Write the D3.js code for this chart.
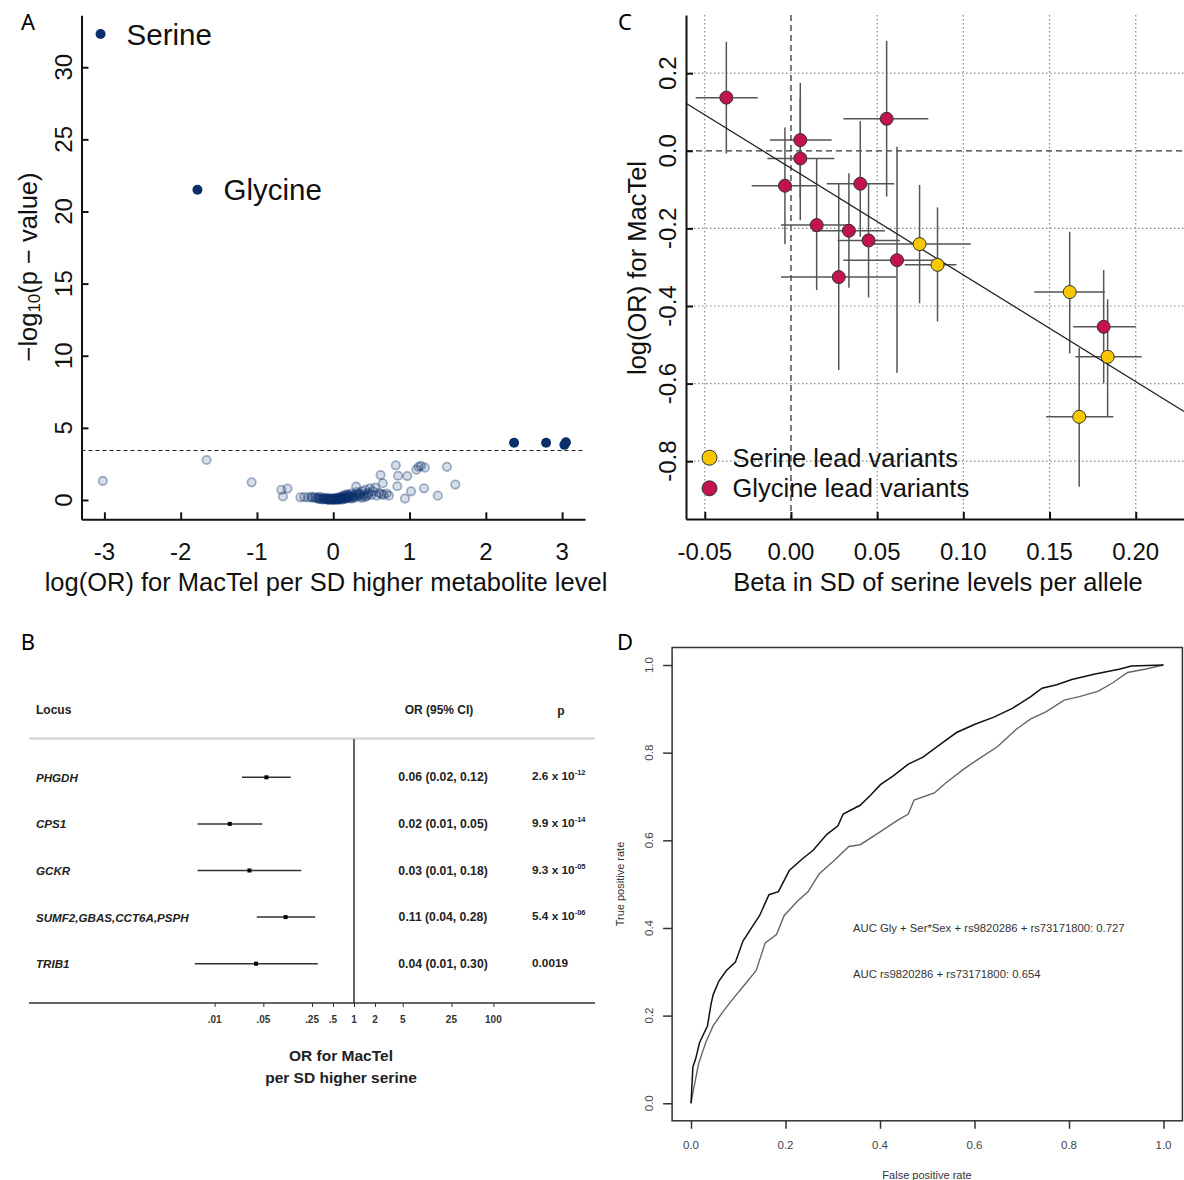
<!DOCTYPE html>
<html>
<head>
<meta charset="utf-8">
<script src="https://cdn.jsdelivr.net/npm/d3@7"></script>
<style>
  body { margin: 0; background: #fff; }
  svg text { font-family: "Liberation Sans", Arial, sans-serif; }
  .letter { font-family: "Noto Sans", sans-serif; font-size: 22px; }
</style>
</head>
<body>
<svg id="fig" width="1184" height="1180"></svg>
<script>
// ---------- panel A: metabolite association ----------
const aFaintX = [-3.02, -1.66, -1.07, -0.68, -0.6, -0.66, 0.30, 0.62, 0.65, 0.82, 0.85, 0.97, 0.84, 0.94, 1.02, 1.09, 1.12, 1.15, 1.20, 1.19, 1.37, 1.49, 1.60,
  -0.43, -0.38, -0.33, -0.29, -0.27, -0.24, -0.22, -0.2, -0.18, -0.17, -0.15, -0.13, -0.12, -0.1, -0.09, -0.08, -0.06, -0.05, -0.04, -0.03, -0.02, -0.01,
  0, 0.01, 0.02, 0.03, 0.04, 0.05, 0.06, 0.07, 0.08, 0.09, 0.1, 0.11, 0.12, 0.13, 0.14, 0.15, 0.16, 0.17, 0.18, 0.19, 0.2, 0.21, 0.22, 0.24, 0.25, 0.26,
  0.28, 0.3, 0.31, 0.33, 0.35, 0.37, 0.38, 0.4, 0.42, 0.44, 0.46, 0.48, 0.5, 0.52, 0.55, 0.57, 0.6, 0.63, 0.66, 0.7, 0.73,
  -0.19, -0.14, -0.11, -0.07, -0.03, 0.0, 0.02, 0.04, 0.06, 0.08, 0.1, 0.12, 0.14, 0.16, 0.18, 0.2, 0.23, 0.27, 0.32, 0.36, 0.41, 0.45];
const aFaintY = [1.32, 2.77, 1.22, 0.7, 0.79, 0.24, 0.92, 1.73, 1.16, 2.4, 1.68, 1.66, 0.95, 0.1, 0.6, 2.1, 2.3, 2.36, 2.24, 0.81, 0.3, 2.3, 1.07,
  0.18, 0.2, 0.17, 0.22, 0.15, 0.2, 0.12, 0.16, 0.1, 0.22, 0.08, 0.13, 0.05, 0.1, 0.04, 0.15, 0.03, 0.08, 0.01, 0.05, 0.12, 0.02,
  0.0, 0.06, 0.03, 0.1, 0.04, 0.14, 0.07, 0.02, 0.18, 0.1, 0.05, 0.22, 0.12, 0.3, 0.08, 0.17, 0.35, 0.12, 0.25, 0.4, 0.15, 0.3, 0.2, 0.45, 0.27, 0.12,
  0.35, 0.2, 0.55, 0.3, 0.45, 0.15, 0.6, 0.35, 0.7, 0.25, 0.5, 0.8, 0.35, 0.6, 0.85, 0.3, 0.5, 0.4, 0.35, 0.45, 0.3,
  0.06, 0.04, 0.09, 0.02, 0.08, 0.05, 0.12, 0.07, 0.01, 0.1, 0.16, 0.03, 0.2, 0.09, 0.14, 0.28, 0.1, 0.22, 0.4, 0.28, 0.2, 0.38];
const aSigX = [-3.05, -1.78, 2.37, 2.79, 3.03, 3.05];
const aSigY = [32.3, 21.5, 3.97, 3.97, 3.82, 4.0];
const aSigLabel = ["Serine", "Glycine", "", "", "", ""];
const aXTicks = [-3, -2, -1, 0, 1, 2, 3];
const aYTicks = [0, 5, 10, 15, 20, 25, 30];
const aThreshold = 3.43;

// ---------- panel B: forest plot ----------
const bLocus = ["PHGDH", "CPS1", "GCKR", "SUMF2,GBAS,CCT6A,PSPH", "TRIB1"];
const bOR = [0.0554, 0.0165, 0.0316, 0.1044, 0.0393];
const bLow = [0.0247, 0.0057, 0.0057, 0.0403, 0.0052];
const bHigh = [0.124, 0.0483, 0.175, 0.2775, 0.3025];
const bORText = ["0.06 (0.02, 0.12)", "0.02 (0.01, 0.05)", "0.03 (0.01, 0.18)", "0.11 (0.04, 0.28)", "0.04 (0.01, 0.30)"];
const bPMant = ["2.6 x 10", "9.9 x 10", "9.3 x 10", "5.4 x 10", "0.0019"];
const bPExp = ["-12", "-14", "-05", "-06", ""];
const bTicks = [0.01, 0.05, 0.25, 0.5, 1, 2, 5, 25, 100];
const bTickLabels = [".01", ".05", ".25", ".5", "1", "2", "5", "25", "100"];

// ---------- panel C: serine beta vs MacTel log(OR) ----------
const cType = ["Gly","Gly","Gly","Gly","Gly","Gly","Gly","Gly","Gly","Gly","Gly","Gly","Ser","Ser","Ser","Ser","Ser"];
const cBeta = [-0.0375, 0.0555, 0.0054, 0.0054, -0.0035, 0.0149, 0.0336, 0.0402, 0.045, 0.0277, 0.0615, 0.1814, 0.0746, 0.085, 0.1617, 0.1837, 0.1672];
const cBetaLo = [-0.0553, 0.0304, -0.0122, -0.0137, -0.0228, -0.0058, 0.0125, 0.0207, 0.0271, -0.0058, 0.0304, 0.1637, 0.0478, 0.066, 0.1411, 0.165, 0.148];
const cBetaHi = [-0.0193, 0.0797, 0.0236, 0.0252, 0.0149, 0.035, 0.0545, 0.0599, 0.0632, 0.0613, 0.0874, 0.2, 0.1043, 0.096, 0.1821, 0.2035, 0.187];
const cLogOR = [0.137, 0.0825, 0.0276, -0.0197, -0.090, -0.1915, -0.206, -0.085, -0.231, -0.3255, -0.282, -0.4536, -0.2405, -0.294, -0.364, -0.531, -0.6856];
const cLogORLo = [-0.007, -0.118, -0.123, -0.179, -0.241, -0.359, -0.353, -0.2216, -0.378, -0.565, -0.572, -0.5995, -0.393, -0.44, -0.522, -0.6856, -0.866];
const cLogORHi = [0.281, 0.2835, 0.175, 0.136, 0.060, -0.0197, -0.058, 0.0766, -0.086, -0.086, 0.0103, -0.3075, -0.088, -0.146, -0.2087, -0.383, -0.508];
const cFit = { intercept: -0.045, slope: -2.75 };
const cXTicks = [-0.05, 0.00, 0.05, 0.10, 0.15, 0.20];
const cYTicks = [0.2, 0.0, -0.2, -0.4, -0.6, -0.8];
const cLegend = ["Serine lead variants", "Glycine lead variants"];

// ---------- panel D: ROC curves ----------
const dFprFull = [0, 0.004, 0.010, 0.018, 0.028, 0.035, 0.042, 0.047, 0.059, 0.075, 0.094, 0.110, 0.126, 0.145, 0.165, 0.185, 0.208, 0.236, 0.259, 0.287, 0.311, 0.322, 0.358, 0.381, 0.401, 0.428, 0.460, 0.491, 0.531, 0.562, 0.601, 0.641, 0.680, 0.719, 0.743, 0.774, 0.806, 0.853, 0.908, 0.932, 1];
const dTprFull = [0, 0.083, 0.102, 0.138, 0.161, 0.177, 0.224, 0.248, 0.279, 0.303, 0.322, 0.370, 0.397, 0.428, 0.476, 0.483, 0.531, 0.558, 0.578, 0.613, 0.633, 0.660, 0.680, 0.704, 0.727, 0.747, 0.774, 0.790, 0.822, 0.846, 0.865, 0.881, 0.901, 0.928, 0.947, 0.955, 0.967, 0.979, 0.991, 0.998, 1];
const dFprSnp = [0, 0.006, 0.016, 0.031, 0.047, 0.067, 0.090, 0.114, 0.138, 0.157, 0.181, 0.197, 0.224, 0.248, 0.271, 0.303, 0.334, 0.358, 0.397, 0.436, 0.460, 0.472, 0.515, 0.539, 0.578, 0.609, 0.649, 0.688, 0.719, 0.751, 0.790, 0.822, 0.861, 0.892, 0.924, 0.963, 1];
const dTprSnp = [0, 0.035, 0.090, 0.138, 0.177, 0.208, 0.240, 0.271, 0.303, 0.366, 0.385, 0.428, 0.460, 0.483, 0.523, 0.554, 0.586, 0.590, 0.617, 0.645, 0.660, 0.692, 0.708, 0.731, 0.763, 0.786, 0.814, 0.853, 0.877, 0.893, 0.920, 0.928, 0.940, 0.959, 0.983, 0.991, 1];
const dTicks = [0, 0.2, 0.4, 0.6, 0.8, 1.0];
const dAuc = ["AUC Gly + Ser*Sex + rs9820286 + rs73171800: 0.727", "AUC rs9820286 + rs73171800: 0.654"];

const svg = d3.select("#fig");
const fmt1 = d3.format(".1f");

// panel letters
svg.selectAll(".letter").data([["A", 28, 21], ["B", 28, 641], ["C", 625, 21], ["D", 625, 641]])
  .join("text").attr("class", "letter")
  .attr("x", d => d[1]).attr("y", d => d[2])
  .attr("text-anchor", "middle").attr("dominant-baseline", "central")
  .text(d => d[0]);

// ================= A =================
const gA = svg.append("g");
const xA = d3.scaleLinear().domain([-3.3, 3.3]).range([81.5, 585]);
const yA = d3.scaleLinear().domain([-1.34, 33.6]).range([519.3, 15.3]);

gA.append("g").attr("transform", "translate(0,519.3)")
  .call(d3.axisBottom(xA).tickValues(aXTicks).tickSize(-7).tickSizeOuter(0).tickFormat(""))
  .call(g => g.selectAll("path,line").attr("stroke", "#111").attr("stroke-width", 2));
gA.append("g").attr("transform", "translate(81.5,0)")
  .call(d3.axisLeft(yA).tickValues(aYTicks).tickSize(-7).tickSizeOuter(0).tickFormat(""))
  .call(g => g.selectAll("path,line").attr("stroke", "#111").attr("stroke-width", 2));

gA.selectAll(".axl").data(aXTicks).join("text")
  .attr("x", d => xA(d)).attr("y", 551)
  .attr("text-anchor", "middle").attr("dominant-baseline", "central")
  .attr("font-size", 24).attr("fill", "#111")
  .text(d => d);
gA.selectAll(".ayl").data(aYTicks).join("text")
  .attr("transform", d => `translate(63,${yA(d)}) rotate(-90)`)
  .attr("text-anchor", "middle").attr("dominant-baseline", "central")
  .attr("font-size", 24).attr("fill", "#111")
  .text(d => d);

gA.append("text").attr("x", 326).attr("y", 582)
  .attr("text-anchor", "middle").attr("dominant-baseline", "central")
  .attr("font-size", 25.5).attr("fill", "#111")
  .text("log(OR) for MacTel per SD higher metabolite level");
const aYT = gA.append("text").attr("transform", "translate(28,267) rotate(-90)")
  .attr("text-anchor", "middle").attr("dominant-baseline", "central")
  .attr("font-size", 25.5).attr("fill", "#111");
aYT.append("tspan").text("\u2212log");
aYT.append("tspan").attr("font-size", 17).attr("dy", 6).text("10");
aYT.append("tspan").attr("dy", -6).text("(p \u2212 value)");

gA.append("line")
  .attr("x1", xA.range()[0]).attr("x2", xA.range()[1])
  .attr("y1", yA(aThreshold)).attr("y2", yA(aThreshold))
  .attr("stroke", "#222").attr("stroke-width", 1.2).attr("stroke-dasharray", "4,3");

gA.selectAll(".faint").data(aFaintX).join("circle")
  .attr("cx", d => xA(d)).attr("cy", (d, i) => yA(aFaintY[i])).attr("r", 4.2)
  .attr("fill", "rgba(11,47,107,0.16)").attr("stroke", "rgba(11,47,107,0.36)").attr("stroke-width", 1.8);
gA.selectAll(".sig").data(aSigX).join("circle")
  .attr("cx", d => xA(d)).attr("cy", (d, i) => yA(aSigY[i])).attr("r", 5)
  .attr("fill", "#0b2f6b");
gA.selectAll(".sigl").data(aSigX).join("text")
  .attr("x", d => xA(d) + 26).attr("y", (d, i) => yA(aSigY[i]))
  .attr("dominant-baseline", "central").attr("font-size", 29.5).attr("fill", "#111")
  .text((d, i) => aSigLabel[i]);

// ================= B =================
const gB = svg.append("g");
const xB = d3.scaleLog().domain([0.01, 1]).range([214.6, 354]);
const yB = d3.scalePoint().domain(bLocus).range([777.3, 963.7]);

gB.append("text").attr("x", 36).attr("y", 710).attr("dominant-baseline", "central")
  .attr("font-size", 12).attr("font-weight", "bold").attr("fill", "#222").text("Locus");
gB.append("text").attr("x", 439).attr("y", 710).attr("text-anchor", "middle").attr("dominant-baseline", "central")
  .attr("font-size", 12).attr("font-weight", "bold").attr("fill", "#222").text("OR (95% CI)");
gB.append("text").attr("x", 561).attr("y", 711).attr("text-anchor", "middle").attr("dominant-baseline", "central")
  .attr("font-size", 12).attr("font-weight", "bold").attr("fill", "#222").text("p");
gB.append("line").attr("x1", 29).attr("x2", 595).attr("y1", 738.5).attr("y2", 738.5)
  .attr("stroke", "#d8d8d8").attr("stroke-width", 2.5);

gB.append("g").attr("transform", "translate(0,1003)")
  .call(d3.axisBottom(xB).tickValues(bTicks).tickSize(4).tickSizeOuter(0).tickFormat(""))
  .call(g => g.select(".domain").remove())
  .call(g => g.selectAll("line").attr("stroke", "#333"));
gB.append("line").attr("x1", 29).attr("x2", 595).attr("y1", 1003).attr("y2", 1003)
  .attr("stroke", "#333").attr("stroke-width", 1.3);
gB.append("line").attr("x1", xB(1)).attr("x2", xB(1)).attr("y1", 739).attr("y2", 1003)
  .attr("stroke", "#333").attr("stroke-width", 1.5);
gB.selectAll(".btl").data(bTicks).join("text")
  .attr("x", d => xB(d)).attr("y", 1019)
  .attr("text-anchor", "middle").attr("dominant-baseline", "central")
  .attr("font-size", 10).attr("font-weight", "bold").attr("fill", "#333")
  .text((d, i) => bTickLabels[i]);
gB.append("text").attr("x", 341).attr("y", 1055).attr("text-anchor", "middle").attr("dominant-baseline", "central")
  .attr("font-size", 15.5).attr("font-weight", "bold").attr("fill", "#222").text("OR for MacTel");
gB.append("text").attr("x", 341).attr("y", 1077).attr("text-anchor", "middle").attr("dominant-baseline", "central")
  .attr("font-size", 15.5).attr("font-weight", "bold").attr("fill", "#222").text("per SD higher serine");

gB.selectAll(".ci").data(bLocus).join("line")
  .attr("x1", (d, i) => xB(bLow[i])).attr("x2", (d, i) => xB(bHigh[i]))
  .attr("y1", d => yB(d)).attr("y2", d => yB(d))
  .attr("stroke", "#333").attr("stroke-width", 1.5);
gB.selectAll(".est").data(bLocus).join("rect")
  .attr("x", (d, i) => xB(bOR[i]) - 2).attr("y", d => yB(d) - 2)
  .attr("width", 4).attr("height", 4).attr("fill", "#000");
gB.selectAll(".loc").data(bLocus).join("text")
  .attr("x", 36).attr("y", d => yB(d)).attr("dominant-baseline", "central")
  .attr("font-size", 11.6).attr("font-weight", "bold").attr("font-style", "italic").attr("fill", "#222")
  .text(d => d);
gB.selectAll(".ort").data(bLocus).join("text")
  .attr("x", 443).attr("y", d => yB(d)).attr("text-anchor", "middle").attr("dominant-baseline", "central")
  .attr("font-size", 12.2).attr("font-weight", "bold").attr("fill", "#222")
  .text((d, i) => bORText[i]);
const pt = gB.selectAll(".pt").data(bLocus).join("text")
  .attr("x", 532).attr("y", d => yB(d) - 1).attr("dominant-baseline", "central")
  .attr("font-size", 11.8).attr("font-weight", "bold").attr("fill", "#222");
pt.append("tspan").text((d, i) => bPMant[i]);
pt.append("tspan").attr("font-size", 7.5).attr("dy", -4).text((d, i) => bPExp[i]);

// ================= C =================
const gC = svg.append("g");
const xC = d3.scaleLinear().domain([-0.0609, 0.228]).range([686, 1184]);
const yC = d3.scaleLinear().domain([-0.949, 0.35]).range([519, 15]);

gC.selectAll(".gx").data(cXTicks).join("line")
  .attr("x1", d => xC(d)).attr("x2", d => xC(d)).attr("y1", 15).attr("y2", 519)
  .attr("stroke", d => d === 0 ? "#333" : "#888").attr("stroke-width", d => d === 0 ? 1.3 : 1.2)
  .attr("stroke-dasharray", d => d === 0 ? "6,4" : "1.5,2.5");
gC.selectAll(".gy").data(cYTicks).join("line")
  .attr("y1", d => yC(d)).attr("y2", d => yC(d)).attr("x1", 686).attr("x2", 1184)
  .attr("stroke", d => d === 0 ? "#333" : "#888").attr("stroke-width", d => d === 0 ? 1.3 : 1.2)
  .attr("stroke-dasharray", d => d === 0 ? "6,4" : "1.5,2.5");

gC.append("g").attr("transform", "translate(0,519)")
  .call(d3.axisBottom(xC).tickValues(cXTicks).tickSize(-7).tickSizeOuter(0).tickFormat(""))
  .call(g => g.selectAll("path,line").attr("stroke", "#111").attr("stroke-width", 2));
gC.append("g").attr("transform", "translate(686,0)")
  .call(d3.axisLeft(yC).tickValues(cYTicks).tickSize(-7).tickSizeOuter(0).tickFormat(""))
  .call(g => g.selectAll("path,line").attr("stroke", "#111").attr("stroke-width", 2));

gC.selectAll(".cxl").data(cXTicks).join("text")
  .attr("x", d => xC(d)).attr("y", 551)
  .attr("text-anchor", "middle").attr("dominant-baseline", "central")
  .attr("font-size", 24).attr("fill", "#111")
  .text(d => d3.format(".2f")(d).replace("\u2212", "-"));
gC.selectAll(".cyl").data(cYTicks).join("text")
  .attr("transform", d => `translate(667,${yC(d)}) rotate(-90)`)
  .attr("text-anchor", "middle").attr("dominant-baseline", "central")
  .attr("font-size", 24).attr("fill", "#111")
  .text(d => fmt1(d).replace("\u2212", "-"));
gC.append("text").attr("x", 938).attr("y", 582)
  .attr("text-anchor", "middle").attr("dominant-baseline", "central")
  .attr("font-size", 25.5).attr("fill", "#111")
  .text("Beta in SD of serine levels per allele");
gC.append("text").attr("transform", "translate(637,268) rotate(-90)")
  .attr("text-anchor", "middle").attr("dominant-baseline", "central")
  .attr("font-size", 25.5).attr("fill", "#111")
  .text("log(OR) for MacTel");

const cColor = t => t === "Ser" ? "#f7c800" : "#c3134f";
gC.selectAll(".ehx").data(cBeta).join("line")
  .attr("x1", (d, i) => xC(cBetaLo[i])).attr("x2", (d, i) => xC(cBetaHi[i]))
  .attr("y1", (d, i) => yC(cLogOR[i])).attr("y2", (d, i) => yC(cLogOR[i]))
  .attr("stroke", "#555").attr("stroke-width", 1.5);
gC.selectAll(".ehy").data(cBeta).join("line")
  .attr("x1", d => xC(d)).attr("x2", d => xC(d))
  .attr("y1", (d, i) => yC(cLogORLo[i])).attr("y2", (d, i) => yC(cLogORHi[i]))
  .attr("stroke", "#555").attr("stroke-width", 1.5);
gC.append("line")
  .attr("x1", xC(xC.domain()[0])).attr("y1", yC(cFit.intercept + cFit.slope * xC.domain()[0]))
  .attr("x2", xC(xC.domain()[1])).attr("y2", yC(cFit.intercept + cFit.slope * xC.domain()[1]))
  .attr("stroke", "#222").attr("stroke-width", 1.3);
gC.selectAll(".pt").data(cBeta).join("circle")
  .attr("cx", d => xC(d)).attr("cy", (d, i) => yC(cLogOR[i])).attr("r", 6.5)
  .attr("fill", (d, i) => cColor(cType[i])).attr("stroke", "#333").attr("stroke-width", 1);

const leg = gC.selectAll(".leg").data(cLegend).join("g")
  .attr("transform", (d, i) => `translate(709.5,${457.7 + i * 30.6})`);
leg.append("circle").attr("r", 7.5).attr("fill", (d, i) => cColor(i === 0 ? "Ser" : "Gly"))
  .attr("stroke", "#333").attr("stroke-width", 1);
leg.append("text").attr("x", 23).attr("dominant-baseline", "central")
  .attr("font-size", 25.5).attr("fill", "#111").text(d => d);

// ================= D =================
const gD = svg.append("g");
const xD = d3.scaleLinear().domain([-0.04, 1.04]).range([672.1, 1182.4]);
const yD = d3.scaleLinear().domain([-0.04, 1.04]).range([1120.8, 647.5]);

gD.append("rect").attr("x", xD.range()[0]).attr("y", yD.range()[1])
  .attr("width", xD.range()[1] - xD.range()[0]).attr("height", yD.range()[0] - yD.range()[1])
  .attr("fill", "none").attr("stroke", "#333").attr("stroke-width", 1.5);
gD.append("g").attr("transform", `translate(0,${yD.range()[0]})`)
  .call(d3.axisBottom(xD).tickValues(dTicks).tickSize(8).tickSizeOuter(0).tickFormat(""))
  .call(g => g.select(".domain").remove())
  .call(g => g.selectAll("line").attr("stroke", "#333").attr("stroke-width", 1.5));
gD.append("g").attr("transform", `translate(${xD.range()[0]},0)`)
  .call(d3.axisLeft(yD).tickValues(dTicks).tickSize(9).tickSizeOuter(0).tickFormat(""))
  .call(g => g.select(".domain").remove())
  .call(g => g.selectAll("line").attr("stroke", "#333").attr("stroke-width", 1.5));
gD.selectAll(".dxl").data(dTicks).join("text")
  .attr("x", d => xD(d)).attr("y", 1145)
  .attr("text-anchor", "middle").attr("dominant-baseline", "central")
  .attr("font-size", 11.5).attr("fill", "#444").text(d => fmt1(d));
gD.selectAll(".dyl").data(dTicks).join("text")
  .attr("transform", d => `translate(649,${yD(d)}) rotate(-90)`)
  .attr("text-anchor", "middle").attr("dominant-baseline", "central")
  .attr("font-size", 11.5).attr("fill", "#444").text(d => fmt1(d));
gD.append("text").attr("x", 927).attr("y", 1175)
  .attr("text-anchor", "middle").attr("dominant-baseline", "central")
  .attr("font-size", 11).attr("fill", "#333").text("False positive rate");
gD.append("text").attr("transform", "translate(620,884) rotate(-90)")
  .attr("text-anchor", "middle").attr("dominant-baseline", "central")
  .attr("font-size", 11).attr("fill", "#333").text("True positive rate");

const roc = d3.line().x(d => xD(d[0])).y(d => yD(d[1]));
gD.append("path").datum(dFprSnp.map((f, i) => [f, dTprSnp[i]]))
  .attr("d", roc).attr("fill", "none").attr("stroke", "#666").attr("stroke-width", 1.4);
gD.append("path").datum(dFprFull.map((f, i) => [f, dTprFull[i]]))
  .attr("d", roc).attr("fill", "none").attr("stroke", "#111").attr("stroke-width", 1.5);

gD.selectAll(".auc").data(dAuc).join("text")
  .attr("x", 853).attr("y", (d, i) => 928 + i * 46)
  .attr("dominant-baseline", "central")
  .attr("font-size", 11.3).attr("fill", "#333").text(d => d);
</script>
</body>
</html>
